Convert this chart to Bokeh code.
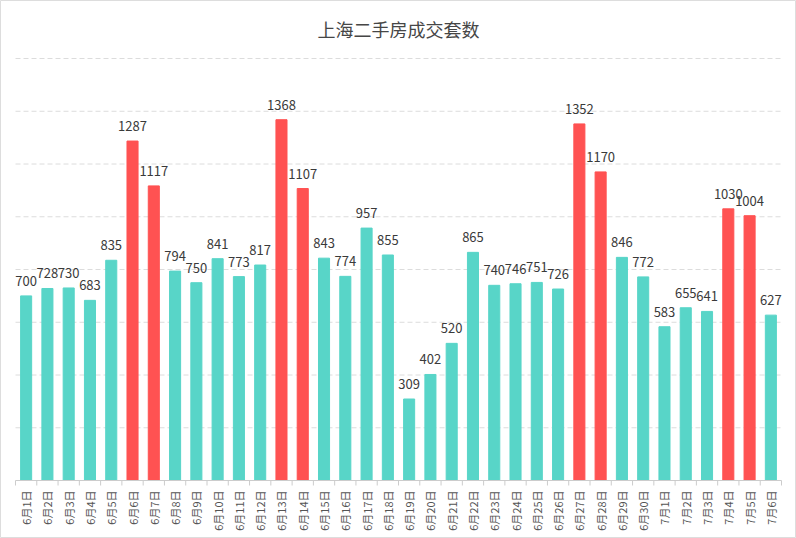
import math
from bokeh.plotting import figure
from bokeh.models import ColumnDataSource, Range1d
from bokeh.core.properties import value
from bokeh.embed import file_html
from bokeh.resources import INLINE

# --- data ---
days = ["6月%d日" % d for d in range(1, 31)] + ["7月%d日" % d for d in range(1, 7)]
deals = [700, 728, 730, 683, 835, 1287, 1117, 794, 750, 841, 773, 817, 1368, 1107,
         843, 774, 957, 855, 309, 402, 520, 865, 740, 746, 751, 726, 1352, 1170,
         846, 772, 583, 655, 641, 1030, 1004, 627]
weekend = ["6月6日", "6月7日", "6月13日", "6月14日", "6月27日", "6月28日", "7月4日", "7月5日"]
grid_ticks = [200, 400, 600, 800, 1000, 1200, 1400, 1600]

TEAL = "#58D5C8"
RED = "#FF5252"
FONT = "Noto Sans CJK SC"

W, H = 796, 538
left, right = 15, 781       # plot area in figure pixels
base, top = 480, 58         # y pixel (from top) of 0 and of 1600
ppu = (base - top) / 1600.0
cat = (right - left) / len(days)

xs = list(range(1, len(days) + 1))
colors = [RED if d in weekend else TEAL for d in days]
src = ColumnDataSource(data=dict(x=xs, y=deals, color=colors,
                                 label=[str(v) for v in deals], day=days))

p = figure(width=W, height=H, output_backend="svg", toolbar_location=None,
           x_range=Range1d(0.5 - left / cat, len(days) + 0.5 + (W - right) / cat),
           y_range=Range1d(-(H - base) / ppu, base / ppu),
           x_axis_location=None, y_axis_location=None,
           min_border=0)
p.outline_line_color = "#dddddd"
p.grid.grid_line_color = None

# dashed grid lines
n = len(grid_ticks)
p.segment(x0=[0.5] * n, y0=grid_ticks, x1=[len(days) + 0.5] * n, y1=grid_ticks,
          line_color="#dcdcdc", line_width=1, line_dash="5 3")

p.vbar(x="x", top="y", width=0.52, color="color", source=src)

p.text(x="x", y="y", text="label", source=src, y_offset=-10,
       text_align="center", text_baseline="bottom",
       text_font=value(FONT), text_font_size="13px", text_color="#3a3a3a")

# baseline axis with ticks between days
p.segment(x0=[0.5], y0=[0], x1=[len(days) + 0.5], y1=[0], line_color="#cccccc", line_width=1)
bounds = [i + 0.5 for i in range(len(days) + 1)]
p.segment(x0=bounds, y0=[0] * len(bounds), x1=bounds,
          y1=[-5 / ppu] * len(bounds), line_color="#cccccc", line_width=1)

# rotated day labels
p.text(x="x", y=0, text="day", source=src, angle=math.pi / 2, y_offset=10,
       text_align="right", text_baseline="middle",
       text_font=value(FONT), text_font_size="11px", text_color="#555555")

# title
p.text(x=[(len(days) + 1) / 2], y=[(base - 28) / ppu], text=["上海二手房成交套数"],
       text_align="center", text_baseline="middle",
       text_font=value(FONT), text_font_size="18px", text_color="#464646")

open("out.html", "w").write(file_html(p, INLINE))
